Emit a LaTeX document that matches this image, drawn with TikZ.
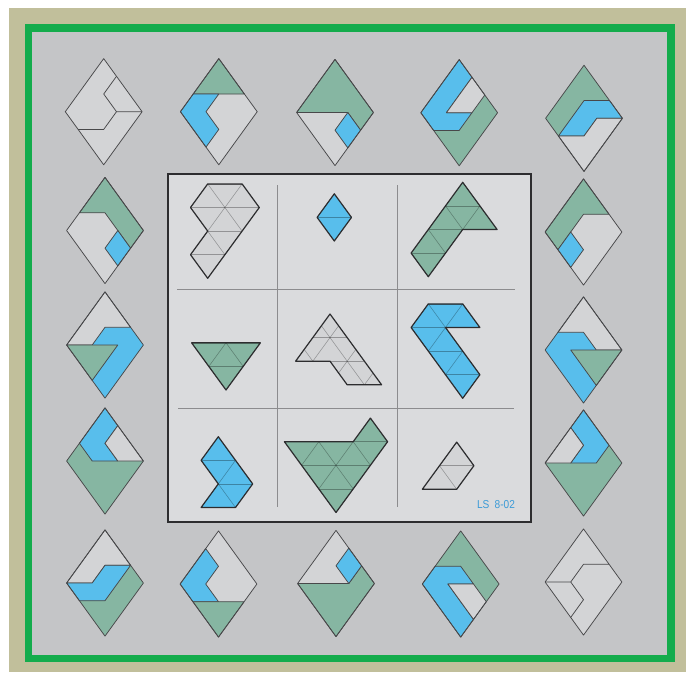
\documentclass[tikz,border=0pt]{standalone}
\usepackage{fontspec}
\usepackage{graphicx}
\newfontfamily\lsfont{Liberation Sans}
\definecolor{tanc}{RGB}{193,191,155}
\definecolor{framegreen}{RGB}{20,172,76}
\definecolor{bggray}{RGB}{196,197,199}
\definecolor{panelc}{RGB}{218,219,221}
\definecolor{pgray}{RGB}{211,212,214}
\definecolor{pblue}{RGB}{88,190,236}
\definecolor{pgreen}{RGB}{134,182,162}
\definecolor{edgec}{RGB}{72,72,74}
\definecolor{pedgec}{RGB}{45,45,47}
\definecolor{gridc}{RGB}{140,140,142}
\definecolor{lsblue}{RGB}{60,155,215}
\tikzset{
  rhe/.style={draw=edgec, line width=0.75pt, line join=round},
  pedge/.style={draw=pedgec, line width=1.2pt, line join=round},
  inner/.style={draw=black, draw opacity=0.3, line width=0.55pt},
  rh/.style n args={2}{shift={(#1,#2+53.1)},xscale=12.8,yscale=-17.7},
  pp/.style n args={2}{shift={(#1,#2)},xscale=17.2,yscale=-23.6},
}
\def\RH{(0,0)--(3,3)--(0,6)--(-3,3)--cycle}
\newcommand{\ppiece}[4]{%
  \begin{scope}[pp={#1}{#2}]
    \fill[#3] #4;
    \begin{scope}
      \clip #4;
      \foreach \k in {-10,-8,...,10}{\draw[inner] (\k-2,-2)--(\k+8,8) (\k+2,-2)--(\k-8,8);}
      \foreach \j in {1,...,4}{\draw[inner] (-8,\j)--(8,\j);}
    \end{scope}
    \draw[pedge] #4;
  \end{scope}}
\begin{document}
\begin{tikzpicture}[x=1pt,y=-1pt]
\useasboundingbox (0,0) rectangle (698,672);
\fill[white] (0,0) rectangle (698,672);
\fill[tanc] (9,8) rectangle (686,672);
\fill[bggray] (28.5,28) rectangle (671,658.5);
\draw[framegreen, line width=7.5pt] (28.5,28) rectangle (671,658.5);

% ---------- top row ----------
\begin{scope}[rh={103.7}{111.7}]
  \fill[pgray] \RH;
  \draw[rhe] (1,5)--(0,4)--(1,3)--(3,3) (1,3)--(0,2)--(-2,2);
  \draw[rhe] \RH;
\end{scope}
\begin{scope}[rh={218.8}{111.7}]
  \fill[pgray] \RH;
  \filldraw[fill=pgreen, rhe] (0,6)--(-2,4)--(2,4)--cycle;
  \filldraw[fill=pblue, rhe] (-2,4)--(0,4)--(-1,3)--(0,2)--(-1,1)--(-3,3)--cycle;
  \draw[rhe] \RH;
\end{scope}
\begin{scope}[rh={335}{112.5}]
  \fill[pgray] \RH;
  \filldraw[fill=pgreen, rhe] (0,6)--(-3,3)--(1,3)--(2,2)--(3,3)--cycle;
  \filldraw[fill=pblue, rhe] (1,3)--(0,2)--(1,1)--(2,2)--cycle;
  \draw[rhe] \RH;
\end{scope}
\begin{scope}[rh={459.2}{112.7}]
  \fill[pgreen] \RH;
  \filldraw[fill=pblue, rhe] (0,6)--(1,5)--(-1,3)--(1,3)--(0,2)--(-2,2)--(-3,3)--cycle;
  \filldraw[fill=pgray, rhe] (1,5)--(2,4)--(1,3)--(-1,3)--cycle;
  \draw[rhe] \RH;
\end{scope}
\begin{scope}[rh={584}{118.3}]
  \fill[pgreen] \RH;
  \filldraw[fill=pblue, rhe] (0,4)--(2,4)--(3,3)--(1,3)--(0,2)--(-2,2)--(-1,3)--cycle;
  \filldraw[fill=pgray, rhe] (-2,2)--(0,2)--(1,3)--(3,3)--(0,0)--cycle;
  \draw[rhe] \RH;
\end{scope}

% ---------- left column ----------
\begin{scope}[rh={105}{230.5}]
  \fill[pgray] \RH;
  \filldraw[fill=pgreen, rhe] (0,6)--(3,3)--(2,2)--(1,3)--(0,4)--(-2,4)--cycle;
  \filldraw[fill=pblue, rhe] (1,3)--(2,2)--(1,1)--(0,2)--cycle;
  \draw[rhe] \RH;
\end{scope}
\begin{scope}[rh={105}{345}]
  \fill[pblue] \RH;
  \filldraw[fill=pgray, rhe] (0,6)--(2,4)--(0,4)--(-1,3)--(-3,3)--cycle;
  \filldraw[fill=pgreen, rhe] (-3,3)--(1,3)--(-1,1)--cycle;
  \draw[rhe] \RH;
\end{scope}
\begin{scope}[rh={105}{461}]
  \fill[pgreen] \RH;
  \filldraw[fill=pblue, rhe] (0,6)--(1,5)--(0,4)--(1,3)--(-1,3)--(-2,4)--cycle;
  \filldraw[fill=pgray, rhe] (1,5)--(3,3)--(1,3)--(0,4)--cycle;
  \draw[rhe] \RH;
\end{scope}

% ---------- right column ----------
\begin{scope}[rh={583.5}{232}]
  \fill[pgray] \RH;
  \filldraw[fill=pgreen, rhe] (0,6)--(2,4)--(0,4)--(-1,3)--(-2,2)--(-3,3)--cycle;
  \filldraw[fill=pblue, rhe] (-1,3)--(0,2)--(-1,1)--(-2,2)--cycle;
  \draw[rhe] \RH;
\end{scope}
\begin{scope}[rh={583.5}{350}]
  \fill[pblue] \RH;
  \filldraw[fill=pgray, rhe] (0,6)--(3,3)--(1,3)--(0,4)--(-2,4)--cycle;
  \filldraw[fill=pgreen, rhe] (-1,3)--(3,3)--(1,1)--cycle;
  \draw[rhe] \RH;
\end{scope}
\begin{scope}[rh={583.5}{463}]
  \fill[pgreen] \RH;
  \filldraw[fill=pblue, rhe] (0,6)--(-1,5)--(0,4)--(-1,3)--(1,3)--(2,4)--cycle;
  \filldraw[fill=pgray, rhe] (-1,5)--(-3,3)--(-1,3)--(0,4)--cycle;
  \draw[rhe] \RH;
\end{scope}

% ---------- bottom row ----------
\begin{scope}[rh={105}{583}]
  \fill[pgreen] \RH;
  \filldraw[fill=pgray, rhe] (0,6)--(2,4)--(0,4)--(-1,3)--(-3,3)--cycle;
  \filldraw[fill=pblue, rhe] (-3,3)--(-1,3)--(0,4)--(2,4)--(0,2)--(-2,2)--cycle;
  \draw[rhe] \RH;
\end{scope}
\begin{scope}[rh={218.5}{584}]
  \fill[pgray] \RH;
  \filldraw[fill=pblue, rhe] (-1,5)--(0,4)--(-1,3)--(0,2)--(-2,2)--(-3,3)--cycle;
  \filldraw[fill=pgreen, rhe] (-2,2)--(2,2)--(0,0)--cycle;
  \draw[rhe] \RH;
\end{scope}
\begin{scope}[rh={336}{583.5}]
  \fill[pgray] \RH;
  \filldraw[fill=pgreen, rhe] (-3,3)--(1,3)--(2,4)--(3,3)--(0,0)--cycle;
  \filldraw[fill=pblue, rhe] (1,5)--(0,4)--(1,3)--(2,4)--cycle;
  \draw[rhe] \RH;
\end{scope}
\begin{scope}[rh={460.7}{584}]
  \fill[pgreen] \RH;
  \filldraw[fill=pblue, rhe] (-2,4)--(0,4)--(1,3)--(-1,3)--(1,1)--(0,0)--(-3,3)--cycle;
  \filldraw[fill=pgray, rhe] (-1,3)--(1,3)--(2,2)--(1,1)--cycle;
  \draw[rhe] \RH;
\end{scope}
\begin{scope}[rh={583.5}{582}]
  \fill[pgray] \RH;
  \draw[rhe] (2,4)--(0,4)--(-1,3)--(-3,3) (-1,3)--(0,2)--(-1,1);
  \draw[rhe] \RH;
\end{scope}

% ---------- central panel ----------
\fill[panelc] (168,174) rectangle (531,522);
\draw[gridc, line width=0.6pt] (277.5,185) -- (277.5,507) (397.5,185) -- (397.5,507)
  (177,289) -- (515,289) (178,408.3) -- (513.5,408.3);
\draw[pedgec, line width=1.8pt] (168,174) rectangle (531,522);

\ppiece{207.7}{278.3}{pgray}{(0,0)--(-1,1)--(0,2)--(-1,3)--(0,4)--(2,4)--(3,3)--cycle}
\ppiece{334.3}{241}{pblue}{(0,0)--(1,1)--(0,2)--(-1,1)--cycle}
\ppiece{428.3}{276.7}{pgreen}{(0,0)--(-1,1)--(2,4)--(4,2)--(2,2)--cycle}
\ppiece{226}{390}{pgreen}{(0,0)--(-2,2)--(2,2)--cycle}
\ppiece{330}{384.8}{pgray}{(0,3)--(3,0)--(1,0)--(0,1)--(-2,1)--cycle}
\ppiece{462.7}{398.3}{pblue}{(0,0)--(1,1)--(-1,3)--(1,3)--(0,4)--(-2,4)--(-3,3)--cycle}
\ppiece{201.1}{507.5}{pblue}{(0,0)--(2,0)--(3,1)--(1,3)--(0,2)--(1,1)--cycle}
\ppiece{336}{512.5}{pgreen}{(0,0)--(-3,3)--(1,3)--(2,4)--(3,3)--cycle}
\ppiece{422.3}{489.3}{pgray}{(0,0)--(2,0)--(3,1)--(2,2)--cycle}

\node[text=lsblue, font=\lsfont\fontsize{11.5}{12}\selectfont, inner sep=0pt] (lbl) at (496,505) {\scalebox{0.88}[1]{LS\hspace{6pt}8-02}};
\end{tikzpicture}
\end{document}
